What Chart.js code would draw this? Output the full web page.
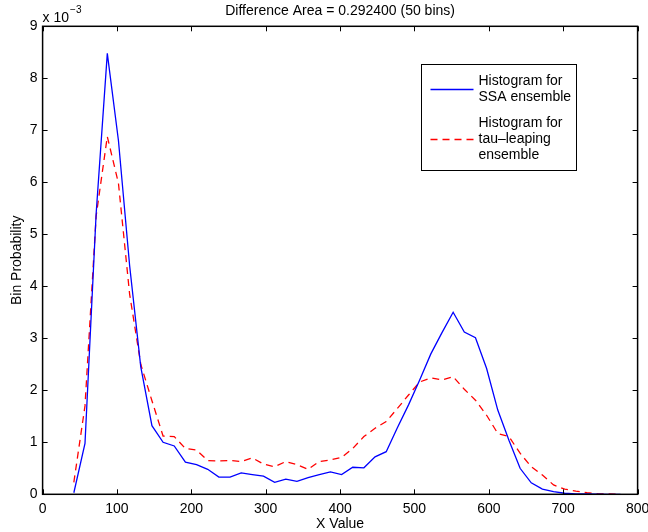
<!DOCTYPE html>
<html>
<head>
<meta charset="utf-8">
<script src="https://cdn.jsdelivr.net/npm/chart.js@4.4.1/dist/chart.umd.min.js"></script>
<style>
  html, body { margin: 0; padding: 0; background: #fff; }
  #wrap { width: 648px; height: 532px; }
</style>
</head>
<body>
<div id="wrap"><canvas id="chart" width="648" height="532"></canvas></div>
<script>
// Histogram comparison, SSA vs tau-leaping (values in units of 1e-3)

const titleText = "Difference Area = 0.292400 (50 bins)";
const xLabel = "X Value";
const yLabel = "Bin Probability";

// bin centres (50 bins)
const binCenters = [
  42, 57, 72, 87, 102, 117, 132, 147, 162, 177,
  192, 207, 222, 237, 252, 267, 282, 297, 312, 327,
  342, 357, 372, 387, 402, 417, 432, 447, 462, 477,
  492, 507, 522, 537, 552, 567, 582, 597, 612, 627,
  642, 657, 672, 687, 702, 717, 732, 747, 762, 777
];

const ssaProb = [
  0.03, 0.98, 5.40, 8.48, 6.80, 4.40, 2.45, 1.32, 1.00, 0.93,
  0.62, 0.57, 0.48, 0.33, 0.33, 0.41, 0.38, 0.35, 0.23, 0.29,
  0.25, 0.32, 0.38, 0.43, 0.38, 0.52, 0.51, 0.72, 0.82, 1.28,
  1.72, 2.20, 2.70, 3.11, 3.50, 3.12, 3.01, 2.42, 1.62, 1.04,
  0.50, 0.22, 0.10, 0.05, 0.02, 0.01, 0.01, 0.005, 0.0, 0.0
];

const tauProb = [
  0.23, 1.70, 5.35, 6.88, 5.98, 3.85, 2.50, 1.80, 1.12, 1.11,
  0.88, 0.85, 0.65, 0.64, 0.65, 0.63, 0.70, 0.58, 0.53, 0.63,
  0.57, 0.48, 0.63, 0.66, 0.71, 0.88, 1.11, 1.27, 1.40, 1.65,
  1.91, 2.16, 2.24, 2.20, 2.26, 2.02, 1.81, 1.52, 1.17, 1.11,
  0.79, 0.53, 0.37, 0.18, 0.10, 0.06, 0.03, 0.01, 0.01, 0.0
];

const xTicks = [0, 100, 200, 300, 400, 500, 600, 700, 800];
const yTicks = [0, 1, 2, 3, 4, 5, 6, 7, 8, 9];

const FONT = "'Liberation Sans', Arial, Helvetica, sans-serif";

const toPoints = vals => binCenters.map((x, i) => ({ x, y: vals[i] }));

// MATLAB-ish frame: box, inward ticks, title, labels, exponent, legend
const matlabDecor = {
  id: "matlabDecor",
  afterDraw(chart) {
    const { ctx, chartArea: a, scales } = chart;
    const sx = scales.x, sy = scales.y;
    ctx.save();

    // inward ticks on all four sides
    ctx.strokeStyle = "#000";
    ctx.lineWidth = 1;
    const tl = 5;
    ctx.beginPath();
    xTicks.forEach(v => {
      const px = Math.round(sx.getPixelForValue(v)) + 0.5;
      ctx.moveTo(px, a.bottom); ctx.lineTo(px, a.bottom - tl);
      ctx.moveTo(px, a.top); ctx.lineTo(px, a.top + tl);
    });
    yTicks.forEach(v => {
      const py = Math.round(sy.getPixelForValue(v)) + 0.5;
      ctx.moveTo(a.left, py); ctx.lineTo(a.left + tl, py);
      ctx.moveTo(a.right, py); ctx.lineTo(a.right - tl, py);
    });
    ctx.stroke();

    // box
    ctx.lineWidth = 1.5;
    ctx.strokeRect(a.left, a.top, a.right - a.left, a.bottom - a.top);

    // texts
    ctx.fillStyle = "#000";
    ctx.font = "14px " + FONT;
    ctx.textAlign = "center";
    ctx.textBaseline = "alphabetic";
    ctx.fillText(titleText, (a.left + a.right) / 2, 15);
    ctx.fillText(xLabel, (a.left + a.right) / 2, 528);

    ctx.save();
    ctx.translate(21, (a.top + a.bottom) / 2);
    ctx.rotate(-Math.PI / 2);
    ctx.fillText(yLabel, 0, 0);
    ctx.restore();

    // exponent
    ctx.textAlign = "left";
    ctx.fillText("x 10", a.left, 22);
    const w = ctx.measureText("x 10").width;
    ctx.font = "10px " + FONT;
    ctx.fillText("\u22123", a.left + w + 1, 13);

    // legend
    const lx = 421.5, ly = 64.5, lw = 155, lh = 106;
    ctx.fillStyle = "#fff";
    ctx.fillRect(lx, ly, lw, lh);
    ctx.strokeStyle = "#000";
    ctx.lineWidth = 1;
    ctx.strokeRect(lx, ly, lw, lh);

    ctx.font = "14px " + FONT;
    ctx.fillStyle = "#000";
    ctx.textBaseline = "middle";
    const rowH = 16;
    let y = ly + 17;
    chart.data.datasets.forEach(ds => {
      const lines = ds.label.split("\n");
      const mid = y + (lines.length - 1) * rowH / 2;
      ctx.save();
      ctx.strokeStyle = ds.borderColor;
      ctx.lineWidth = ds.borderWidth;
      ctx.setLineDash(ds.borderDash || []);
      ctx.beginPath();
      ctx.moveTo(lx + 9, mid);
      ctx.lineTo(lx + 52, mid);
      ctx.stroke();
      ctx.restore();
      lines.forEach((t, i) => ctx.fillText(t, lx + 57, y + i * rowH));
      y += lines.length * rowH + 10;
    });

    ctx.restore();
  }
};

new Chart(document.getElementById("chart"), {
  type: "line",
  data: {
    datasets: [
      {
        label: "Histogram for\nSSA ensemble",
        data: toPoints(ssaProb),
        borderColor: "#0000ff",
        borderWidth: 1.3,
        pointRadius: 0,
        tension: 0,
        fill: false
      },
      {
        label: "Histogram for\ntau\u2013leaping\nensemble",
        data: toPoints(tauProb),
        borderColor: "#ff0000",
        borderWidth: 1.3,
        borderDash: [7, 5],
        pointRadius: 0,
        tension: 0,
        fill: false
      }
    ]
  },
  options: {
    responsive: false,
    animation: false,
    devicePixelRatio: 1,
    layout: { padding: { left: 0, right: 10.4, top: 26.3, bottom: 0 } },
    plugins: {
      legend: { display: false },
      title: { display: false },
      tooltip: { enabled: false }
    },
    scales: {
      x: {
        type: "linear",
        min: 0,
        max: 800,
        afterBuildTicks: s => { s.ticks = xTicks.map(v => ({ value: v })); },
        afterFit: s => { s.height = 37.7; s.paddingLeft = 0; s.paddingRight = 0; },
        grid: { display: false, drawTicks: false },
        border: { display: false },
        ticks: { color: "#000", font: { family: FONT, size: 14 }, padding: 6, maxRotation: 0 }
      },
      y: {
        type: "linear",
        min: 0,
        max: 9,
        afterBuildTicks: s => { s.ticks = yTicks.map(v => ({ value: v })); },
        afterFit: s => { s.width = 42.6; s.paddingTop = 0; s.paddingBottom = 0; },
        grid: { display: false, drawTicks: false },
        border: { display: false },
        ticks: { color: "#000", font: { family: FONT, size: 14 }, padding: 5 }
      }
    }
  },
  plugins: [matlabDecor]
});
</script>
</body>
</html>
